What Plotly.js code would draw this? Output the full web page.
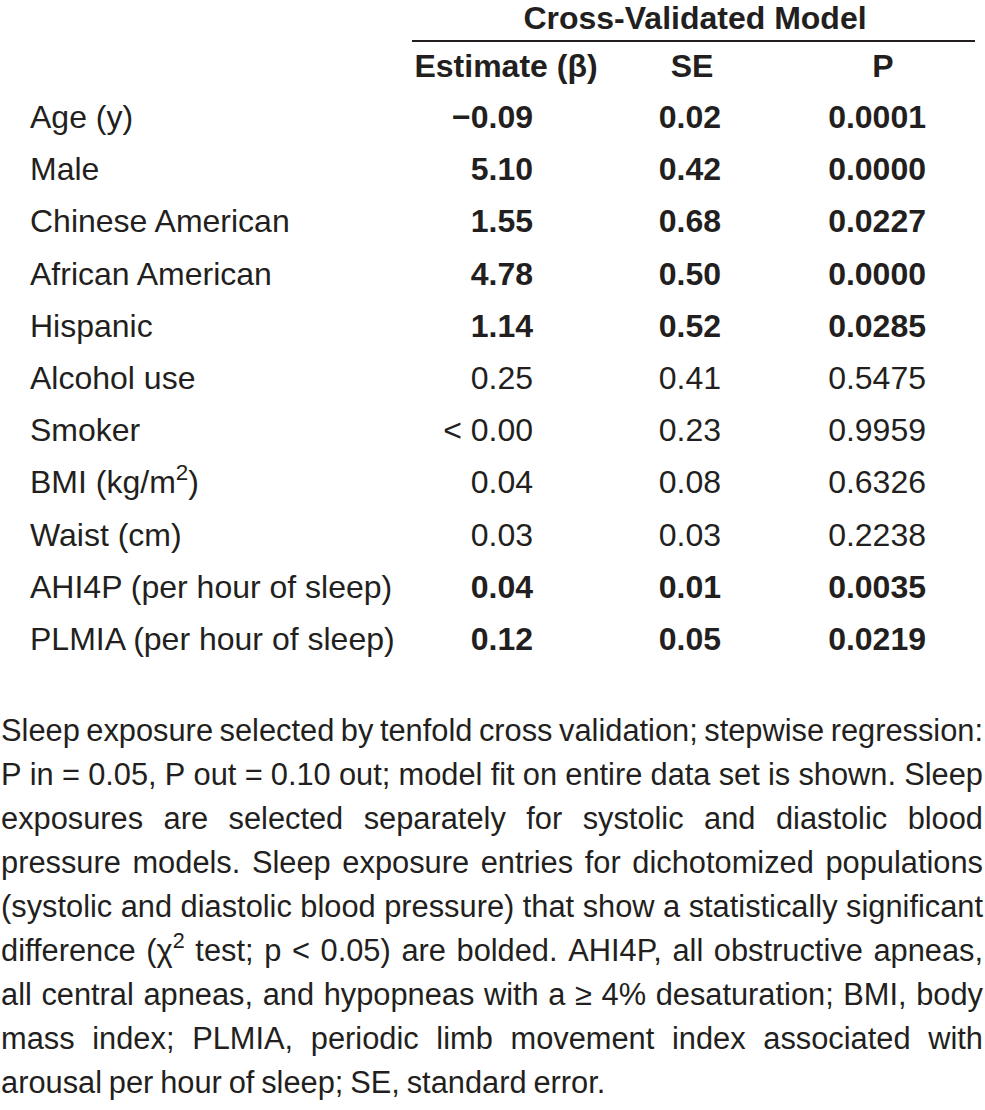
<!DOCTYPE html>
<html>
<head>
<meta charset="utf-8">
<script src="https://cdn.plot.ly/plotly-3.0.1.min.js"></script>
<style>
  html, body { margin: 0; padding: 0; background: #fff; }
  #chart { width: 985px; height: 1110px; }
</style>
</head>
<body>
<div id="chart"></div>
<script>
// ---- data ----
const groupTitle = "Cross-Validated Model";
const columnHeaders = ["Estimate (β)", "SE", "P"];
const variables = [
  "Age (y)", "Male", "Chinese American", "African American", "Hispanic",
  "Alcohol use", "Smoker", "BMI (kg/m<sup>2</sup>)", "Waist (cm)",
  "AHI4P (per hour of sleep)", "PLMIA (per hour of sleep)"
];
const estimates = ["−0.09", "5.10", "1.55", "4.78", "1.14", "0.25", "< 0.00", "0.04", "0.03", "0.04", "0.12"];
const standardErrors = ["0.02", "0.42", "0.68", "0.50", "0.52", "0.41", "0.23", "0.08", "0.03", "0.01", "0.05"];
const pValues = ["0.0001", "0.0000", "0.0227", "0.0000", "0.0285", "0.5475", "0.9959", "0.6326", "0.2238", "0.0035", "0.0219"];
const footnoteLines = [
  "Sleep exposure selected by tenfold cross validation; stepwise regression:",
  "P in = 0.05, P out = 0.10 out; model fit on entire data set is shown. Sleep",
  "exposures are selected separately for systolic and diastolic blood",
  "pressure models. Sleep exposure entries for dichotomized populations",
  "(systolic and diastolic blood pressure) that show a statistically significant",
  "difference (χ<sup>2</sup> test; p < 0.05) are bolded. AHI4P, all obstructive apneas,",
  "all central apneas, and hypopneas with a ≥ 4% desaturation; BMI, body",
  "mass index; PLMIA, periodic limb movement index associated with",
  "arousal per hour of sleep; SE, standard error."
];

// ---- layout constants ----
const W = 985, H = 1110;
const FONT = '"Liberation Sans", Arial, sans-serif';
const INK = "#231f20";
const tableSize = 32;
const rowTop = 120, rowStep = 52.2;
const footTop = 733, footStep = 44.1;
const footLeft = 1, footRight = 983;

const rowY = variables.map((_, i) => rowTop + i * rowStep);
const isBold = pValues.map(p => parseFloat(p) < 0.05);
const b = (s, i) => isBold[i] ? "<b>" + s + "</b>" : s;

const txt = (x, y, text, pos, size) => ({
  type: "scatter", mode: "text", x: x, y: y, text: text,
  textposition: pos, hoverinfo: "skip", showlegend: false,
  textfont: { family: FONT, size: size, color: INK }, cliponaxis: false
});

const traces = [];
traces.push(txt([695], [21], ["<b>" + groupTitle + "</b>"], "middle center", tableSize));
traces.push(txt([506, 692, 883], [69, 69, 69], columnHeaders.map(h => "<b>" + h + "</b>"), "middle center", tableSize));
traces.push(txt(rowY.map(() => 30), rowY, variables, "middle right", tableSize));
traces.push(txt(rowY.map(() => 533), rowY, estimates.map(b), "middle left", tableSize));
traces.push(txt(rowY.map(() => 721), rowY, standardErrors.map(b), "middle left", tableSize));
traces.push(txt(rowY.map(() => 926), rowY, pValues.map(b), "middle left", tableSize));

// ---- footnote: justified by measuring words ----
const canvas = document.createElement("canvas");
const ctx = canvas.getContext("2d");
function measure(word, size) {
  const parts = word.split(/<sup>|<\/sup>/);
  let w = 0;
  parts.forEach((p, k) => {
    const s = (k % 2 === 1) ? size * 0.7 : size;
    ctx.font = s + "px " + FONT;
    w += ctx.measureText(p).width;
  });
  return w;
}
const lineWords = footnoteLines.map(l => l.split(" "));
// largest font size at which every line fits with a tight word gap
const minGapEm = 0.2;
let footSize = 32;
lineWords.forEach(words => {
  const w1 = words.reduce((a, w) => a + measure(w, 100), 0) / 100;
  const need = w1 + (words.length - 1) * minGapEm;
  footSize = Math.min(footSize, (footRight - footLeft) / need);
});
footSize = Math.floor(footSize * 10) / 10;

const fx = [], fy = [], ft = [];
lineWords.forEach((words, li) => {
  const y = footTop + li * footStep;
  const widths = words.map(w => measure(w, footSize));
  const total = widths.reduce((a, c) => a + c, 0);
  const last = li === lineWords.length - 1;
  const gap = last ? measure(" ", footSize) * 0.8 : (footRight - footLeft - total) / (words.length - 1);
  let x = footLeft;
  words.forEach((w, k) => {
    fx.push(x); fy.push(y); ft.push(w);
    x += widths[k] + gap;
  });
});
traces.push(txt(fx, fy, ft, "middle right", footSize));

const layout = {
  width: W, height: H,
  margin: { l: 0, r: 0, t: 0, b: 0, pad: 0 },
  paper_bgcolor: "#ffffff", plot_bgcolor: "#ffffff",
  xaxis: { range: [0, W], visible: false, fixedrange: true },
  yaxis: { range: [H, 0], visible: false, fixedrange: true },
  shapes: [{ type: "line", xref: "x", yref: "y", x0: 412, x1: 975, y0: 41, y1: 41,
             line: { color: INK, width: 2 } }],
  showlegend: false
};

Plotly.newPlot("chart", traces, layout, { staticPlot: true, displayModeBar: false });
</script>
</body>
</html>
